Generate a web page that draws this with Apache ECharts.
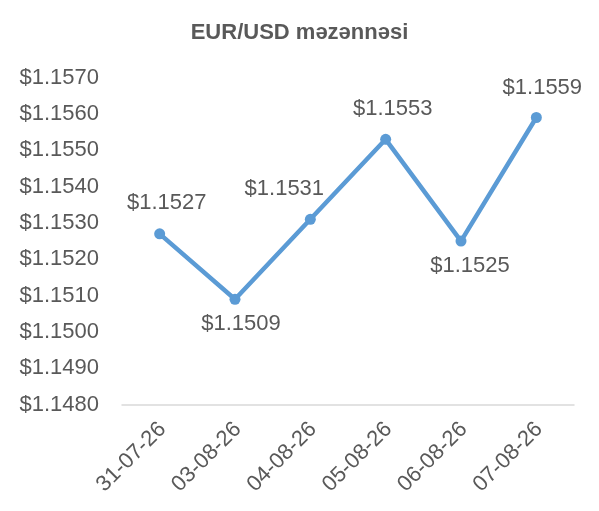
<!DOCTYPE html>
<html><head><meta charset="utf-8">
<script src="https://cdn.jsdelivr.net/npm/echarts@6/dist/echarts.min.js"></script>
<style>html,body{margin:0;padding:0;background:#fff}#c{width:599px;height:511px}</style>
</head><body><div id="c"></div>
<script>
var categories = ['31-07-26','03-08-26','04-08-26','05-08-26','06-08-26','07-08-26'];
var rates = [1.1527, 1.1509, 1.1531, 1.1553, 1.1525, 1.1559];
var labelPositions = ['top','bottom','top','top','bottom','top'];
var labelOffsets = [[7,-6],[6,0],[-26,-6],[7,-6],[9,0],[6,-5]];
var chart = echarts.init(document.getElementById('c'));
var font = 'Liberation Sans, Arial, sans-serif';
chart.setOption({
  animation:false,
  title:{text:'EUR/USD məzənnəsi',left:'center',top:17,textStyle:{fontFamily:font,fontSize:22,fontWeight:'bold',color:'#595959'}},
  grid:{left:122,right:25,top:77.5,bottom:106.3},
  xAxis:{type:'category',data:categories,boundaryGap:true,
    axisLine:{lineStyle:{color:'#d9d9d9',width:1.5}},axisTick:{show:false},
    axisLabel:{rotate:45,fontFamily:font,fontSize:22,color:'#595959',margin:24,padding:[0,-4,0,0],interval:0}},
  yAxis:{type:'value',min:1.148,max:1.157,interval:0.001,
    axisLine:{show:false},axisTick:{show:false},splitLine:{show:false},
    axisLabel:{fontFamily:font,fontSize:22,color:'#595959',margin:23,
      formatter:function(v){return '$'+v.toFixed(4);}}},
  series:[{type:'line',data:rates.map(function(v,i){return {value:v,label:{position:labelPositions[i],offset:labelOffsets[i]}};}),
    lineStyle:{color:'#5b9bd5',width:4.5},itemStyle:{color:'#5b9bd5'},
    symbol:'circle',symbolSize:11,
    label:{show:true,fontFamily:font,fontSize:22,color:'#595959',distance:8,
      formatter:function(p){return '$'+p.value.toFixed(4);}}}]
});
</script></body></html>
